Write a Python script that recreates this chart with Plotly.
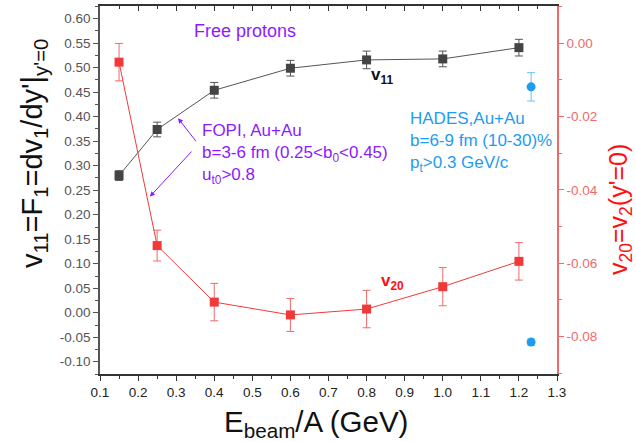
import plotly.graph_objects as go

# ---- data ----
energy = [0.15, 0.25, 0.4, 0.6, 0.8, 1.0, 1.2]
v11 = [0.280, 0.374, 0.454, 0.499, 0.516, 0.518, 0.541]
v11_err = [0.010, 0.015, 0.016, 0.016, 0.018, 0.016, 0.017]
v20 = [-0.0052, -0.0552, -0.0706, -0.0741, -0.0725, -0.0664, -0.0595]
v20_err = [0.0051, 0.0042, 0.0051, 0.0045, 0.0051, 0.0052, 0.0051]
hades_e = [1.232]
hades_v11 = [0.461]
hades_v11_err = [0.029]
hades_v20 = [-0.0815]
hades_v20_err = [0.0008]

x_ticks = [0.1, 0.2, 0.3, 0.4, 0.5, 0.6, 0.7, 0.8, 0.9, 1.0, 1.1, 1.2, 1.3]
left_ticks = [-0.10, -0.05, 0.0, 0.05, 0.10, 0.15, 0.20, 0.25, 0.30, 0.35, 0.40, 0.45, 0.50, 0.55, 0.60]
right_ticks = [0.0, -0.02, -0.04, -0.06, -0.08]

BLACK = "#444444"
RED = "#f03a3a"
RED_LIGHT = "#f06a6a"
BLUE = "#1e9cf0"
PURPLE = "#8c1aff"
FONT = "Liberation Sans, Arial, sans-serif"

fig = go.Figure()
fig.add_trace(go.Scatter(
    x=energy, y=v11, mode="lines+markers",
    line=dict(color="#555555", width=1),
    marker=dict(symbol="square", size=9, color=BLACK),
    error_y=dict(type="data", array=v11_err, color="#555555", thickness=1, width=4),
    yaxis="y", showlegend=False))
fig.add_trace(go.Scatter(
    x=energy, y=v20, mode="lines+markers",
    line=dict(color=RED, width=1),
    marker=dict(symbol="square", size=9, color=RED),
    error_y=dict(type="data", array=v20_err, color=RED_LIGHT, thickness=1, width=4),
    yaxis="y2", showlegend=False))
fig.add_trace(go.Scatter(
    x=hades_e, y=hades_v11, mode="markers",
    marker=dict(symbol="circle", size=9, color=BLUE),
    error_y=dict(type="data", array=hades_v11_err, color="#6cc0f5", thickness=1, width=4),
    yaxis="y", showlegend=False))
fig.add_trace(go.Scatter(
    x=hades_e, y=hades_v20, mode="markers",
    marker=dict(symbol="circle", size=9, color=BLUE),
    error_y=dict(type="data", array=hades_v20_err, color="#6cc0f5", thickness=1, width=4),
    yaxis="y2", showlegend=False))
# invisible trace to render the top mirror axis
fig.add_trace(go.Scatter(x=[0.1], y=[0.7], xaxis="x2", yaxis="y", mode="markers",
                         marker=dict(opacity=0), showlegend=False, hoverinfo="skip"))

fig.update_layout(
    width=636, height=442,
    margin=dict(l=100, r=79, t=6, b=68, autoexpand=False),
    paper_bgcolor="white", plot_bgcolor="white",
    font=dict(family=FONT, size=13.5, color=BLACK),
    xaxis=dict(range=[0.1, 1.3], tickvals=x_ticks, ticktext=[f"{v:.1f}" for v in x_ticks],
               ticks="outside", ticklen=5, tickcolor="#333", showline=True, linecolor="#333",
               linewidth=1.5, showgrid=False, zeroline=False, automargin=False,
               minor=dict(dtick=0.05, ticks="outside", ticklen=3, tickcolor="#333"),
               tickfont=dict(size=13.5, color="#222")),
    xaxis2=dict(range=[0.1, 1.3], overlaying="x", side="top", tickvals=x_ticks, showticklabels=False,
                ticks="inside", ticklen=5, tickcolor="#333", showline=True, linecolor="#333",
                linewidth=1.5, showgrid=False, zeroline=False, automargin=False,
                minor=dict(dtick=0.05, ticks="inside", ticklen=3, tickcolor="#333")),
    yaxis=dict(range=[-0.125, 0.626], tickvals=left_ticks, ticktext=[f"{v:.2f}" for v in left_ticks],
               ticks="outside", ticklen=5, tickcolor="#555", showline=True, linecolor="#555",
               linewidth=1.5, showgrid=False, zeroline=False, automargin=False,
               minor=dict(dtick=0.025, ticks="outside", ticklen=3, tickcolor="#555"),
               tickfont=dict(size=13.5, color="#555")),
    yaxis2=dict(range=[-0.0902, 0.0101], overlaying="y", side="right", anchor="x",
                tickvals=right_ticks, ticktext=[f"{v:.2f}" for v in right_ticks],
                ticks="outside", ticklen=5, tickcolor=RED_LIGHT, showline=True, linecolor=RED_LIGHT,
                linewidth=1.5, showgrid=False, zeroline=False, automargin=False,
                minor=dict(dtick=0.01, ticks="outside", ticklen=3, tickcolor=RED_LIGHT),
                tickfont=dict(size=13.5, color=RED_LIGHT)),
)

ann = []
# axis titles
ann.append(dict(xref="paper", yref="paper", x=0.473, y=0, yshift=-49, xanchor="center", yanchor="middle",
                text="E<sub>beam</sub>/A (GeV)", showarrow=False,
                font=dict(size=29.5, color="#111", family=FONT)))
ann.append(dict(xref="paper", yref="paper", x=0, y=0.5, xshift=-66, yshift=36,
                xanchor="center", yanchor="middle",
                text="v<sub>11</sub>=F<sub>1</sub>=dv<sub>1</sub>/dy'|<sub>y'=0</sub>", textangle=-90,
                showarrow=False, font=dict(size=29, color="#111", family=FONT)))
ann.append(dict(xref="paper", yref="paper", x=1, y=0.5, xshift=63, yshift=-20,
                xanchor="center", yanchor="middle",
                text="v<sub>20</sub>=v<sub>2</sub>(y'=0)", textangle=-90,
                showarrow=False, font=dict(size=25, color="#ff1010", family=FONT)))
# text labels
ann.append(dict(xref="x", yref="y", x=0.48, y=0.576, text="Free protons", showarrow=False,
                xanchor="center", yanchor="middle",
                font=dict(size=18, color=PURPLE, family=FONT)))
ann.append(dict(xref="x", yref="y", x=0.84, y=0.483, text="<b>v<sub>11</sub></b>", showarrow=False,
                xanchor="center", yanchor="middle",
                font=dict(size=17, color="#111", family=FONT)))
ann.append(dict(xref="x", yref="y2", x=0.867, y=-0.0651, text="<b>v<sub>20</sub></b>", showarrow=False,
                xanchor="center", yanchor="middle",
                font=dict(size=17, color="#ff1010", family=FONT)))
ann.append(dict(xref="x", yref="y", x=0.363, y=0.395, xanchor="left", align="left", yanchor="top",
                text="FOPI, Au+Au<br>b=3-6 fm (0.25&lt;b<sub>0</sub>&lt;0.45)<br>u<sub>t0</sub>&gt;0.8",
                showarrow=False, font=dict(size=17, color=PURPLE, family=FONT)))
ann.append(dict(xref="x", yref="y", x=0.908, y=0.419, xanchor="left", align="left", yanchor="top",
                text="HADES,Au+Au<br>b=6-9 fm (10-30)%<br>p<sub>t</sub>&gt;0.3 GeV/c",
                showarrow=False, font=dict(size=17, color=BLUE, family=FONT)))
# arrows
ann.append(dict(xref="x", yref="y", axref="x", ayref="y", x=0.305, y=0.397, ax=0.355, ay=0.347,
                showarrow=True, arrowhead=2, arrowsize=1, arrowwidth=1, arrowcolor=PURPLE, text=""))
ann.append(dict(xref="x", yref="y", axref="x", ayref="y", x=0.231, y=0.237, ax=0.344, ay=0.332,
                showarrow=True, arrowhead=2, arrowsize=1, arrowwidth=1, arrowcolor=PURPLE, text=""))
fig.update_layout(annotations=ann)

fig.write_html("out.html", config={"displayModeBar": False},
               post_script="document.body.style.margin='0';document.body.style.padding='0';")
